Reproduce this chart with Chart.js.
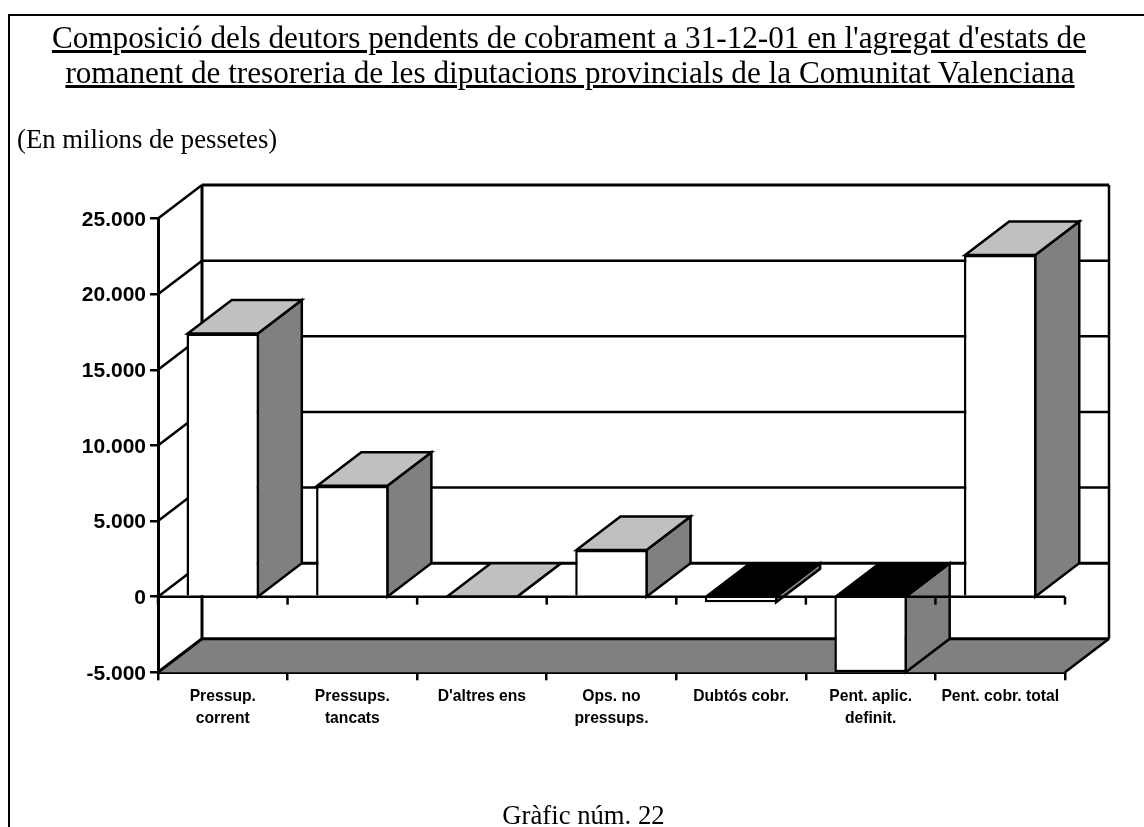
<!DOCTYPE html>
<html><head><meta charset="utf-8">
<style>
html,body{margin:0;padding:0;background:#fff;width:1144px;height:827px;overflow:hidden}
#wrap{position:relative;width:1144px;height:827px}
canvas{position:absolute;left:0;top:0}
.t{position:absolute;font-family:"Liberation Serif",serif;color:#000;white-space:nowrap;line-height:1}
#frameL{position:absolute;left:8px;top:14px;width:2px;height:813px;background:#000}
#frameT{position:absolute;left:8px;top:14px;width:1136px;height:2px;background:#000}
</style></head><body><div id="wrap">
<canvas id="c" width="1144" height="827"></canvas>
<div id="frameL"></div><div id="frameT"></div>
<div class="t" id="t1" style="left:0;width:1138px;text-align:center;top:22px;font-size:31.2px;text-decoration:underline">Composició dels deutors pendents de cobrament a 31-12-01 en l'agregat d'estats de</div>
<div class="t" id="t2" style="left:0;width:1140px;text-align:center;top:57px;font-size:31.2px;text-decoration:underline">romanent de tresoreria de les diputacions provincials de la Comunitat Valenciana</div>
<div class="t" style="left:17px;top:125.5px;font-size:26.7px">(En milions de pessetes)</div>
<div class="t" style="left:0;width:1167px;text-align:center;top:801.5px;font-size:26.7px">Gràfic núm. 22</div>
</div>
<script src="https://cdn.jsdelivr.net/npm/chart.js@4/dist/chart.umd.min.js"></script>
<script>
const categories = [["Pressup.","corrent"],["Pressups.","tancats"],"D'altres ens",["Ops. no","pressups."],"Dubtós cobr.",["Pent. aplic.","definit."],"Pent. cobr. total"];
const values = [17400, 7330, 0, 3090, -370, -5000, 22580];
const yTicks = [-5000,0,5000,10000,15000,20000,25000];
const depthX = 44, depthY = -33.5;
const WHITE='#ffffff', SIDE='#808080', TOP='#c0c0c0', BLACK='#000000';
const LW = 2.5;

function poly(ctx, pts, fill, lw){
  ctx.beginPath();
  pts.forEach((p,i)=> i? ctx.lineTo(p[0],p[1]) : ctx.moveTo(p[0],p[1]));
  ctx.closePath();
  if(fill){ctx.fillStyle=fill;ctx.fill();}
  if(lw){ctx.lineWidth=lw;ctx.strokeStyle=BLACK;ctx.lineJoin='miter';ctx.stroke();}
}
function line(ctx,x1,y1,x2,y2,lw){
  ctx.beginPath();ctx.moveTo(x1,y1);ctx.lineTo(x2,y2);ctx.lineWidth=lw;ctx.strokeStyle=BLACK;ctx.stroke();
}
const box3d = {
  id:'box3d',
  beforeDatasetsDraw(chart){
    const ctx=chart.ctx, y=chart.scales.y, a=chart.chartArea;
    const L=a.left, R=a.right, dx=depthX, dy=depthY;
    ctx.save();
    yTicks.forEach(v=>{
      const py=y.getPixelForValue(v);
      const heavy = v===25000||v===0;
      if(v!==-5000) line(ctx,L,py,L+dx,py+dy,LW);
      if(v!==-5000) line(ctx,L+dx,py+dy,R+dx,py+dy,heavy?3:LW);
    });
    const top=y.getPixelForValue(25000), bot=y.getPixelForValue(-5000);
    line(ctx,L+dx,top+dy,L+dx,bot+dy,3);
    line(ctx,R+dx,top+dy,R+dx,bot+dy,LW);
    poly(ctx,[[L,bot],[R,bot],[R+dx,bot+dy],[L+dx,bot+dy]],SIDE,0);
    line(ctx,L+dx,bot+dy,R+dx,bot+dy,3);
    line(ctx,L,bot,L+dx,bot+dy,3);
    line(ctx,R,bot,R+dx,bot+dy,LW);
    const z=y.getPixelForValue(0);
    chart.getDatasetMeta(0).data.forEach((b,i)=>{
      const hw=b.width/2-LW/2, x1=b.x-hw, x2=b.x+hw, py=y.getPixelForValue(values[i]);
      const neg=values[i]<0;
      const upper=neg?z:py, lower=neg?py:z;
      poly(ctx,[[x2,upper],[x2+dx,upper+dy],[x2+dx,lower+dy],[x2,lower]],SIDE,LW);
      poly(ctx,[[x1,upper],[x2,upper],[x2+dx,upper+dy],[x1+dx,upper+dy]],neg?BLACK:TOP,LW);
    });
    ctx.restore();
  },
  afterDatasetsDraw(chart){
    const ctx=chart.ctx, y=chart.scales.y, a=chart.chartArea;
    const z=y.getPixelForValue(0);
    ctx.save();
    line(ctx,a.left,z,a.right,z,LW);
    for(let i=0;i<=categories.length;i++){
      const px=a.left+(a.right-a.left)*i/categories.length;
      line(ctx,px,z,px,z+8,LW);
    }
    ctx.restore();
  }
};
new Chart(document.getElementById('c'),{
  type:'bar',
  data:{labels:categories,datasets:[{data:values,backgroundColor:WHITE,borderColor:BLACK,borderWidth:LW,borderSkipped:'start',categoryPercentage:1,barPercentage:0.56}]},
  plugins:[box3d],
  options:{
    responsive:false,animation:false,
    layout:{padding:{left:0,right:79,top:218.5,bottom:54.7}},
    plugins:{legend:{display:false},tooltip:{enabled:false},title:{display:false}},
    scales:{
      x:{z:1,offset:true,
        grid:{drawOnChartArea:false,drawTicks:true,tickLength:8,tickColor:BLACK,lineWidth:LW,offset:true},
        border:{color:BLACK,width:3},
        ticks:{color:BLACK,maxRotation:0,autoSkip:false,padding:6,font:{family:'"Liberation Sans",Arial,sans-serif',weight:'bold',size:15.7,lineHeight:1.38}},
        afterFit(s){s.height=100;}
      },
      y:{z:1,min:-5000,max:25000,
        grid:{drawOnChartArea:false,drawTicks:true,tickLength:8,tickColor:BLACK,lineWidth:LW},
        border:{color:BLACK,width:3},
        afterBuildTicks(s){s.ticks=yTicks.map(v=>({value:v}));},
        ticks:{color:BLACK,padding:4,labelOffset:1.5,font:{family:'"Liberation Sans",Arial,sans-serif',weight:'bold',size:21},
          callback:v=>v===0?'0':String(v).replace(/\B(?=(\d{3})+$)/,'.')},
        afterFit(s){s.width=158;}
      }
    }
  }
});
</script></body></html>
